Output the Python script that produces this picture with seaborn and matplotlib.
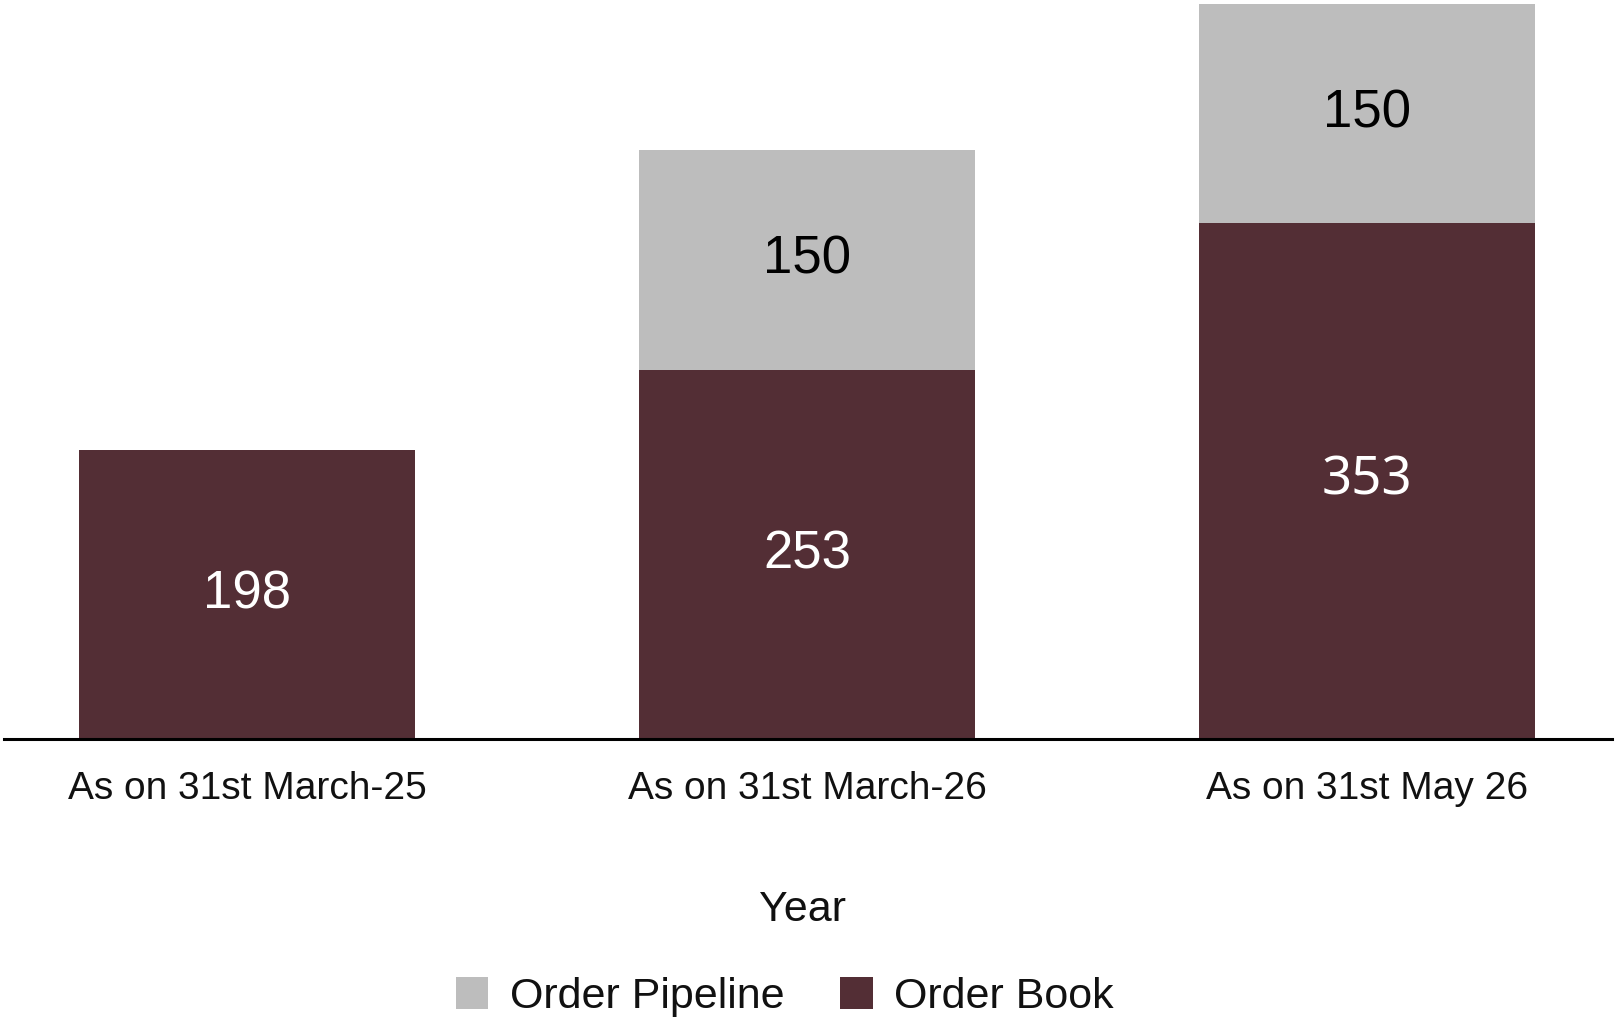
import matplotlib
matplotlib.use("Agg")
import matplotlib.pyplot as plt
import seaborn as sns
import pandas as pd
from matplotlib.patches import Patch

categories = ["As on 31st March-25", "As on 31st March-26", "As on 31st May 26"]
order_book = [198, 253, 353]
order_pipeline = [0, 150, 150]

BOOK_COLOR = "#532E35"
PIPE_COLOR = "#BDBDBD"

sns.set_theme(style="white")
plt.rcParams["font.family"] = ["Liberation Sans", "DejaVu Sans"]

df = pd.DataFrame({
    "Year": categories,
    "Order Book": order_book,
    "Order Pipeline": order_pipeline,
})
df["Total"] = df["Order Book"] + df["Order Pipeline"]

fig = plt.figure(figsize=(16.16, 10.21), dpi=100)
ax = fig.add_axes([4 / 1616, 1 - 739 / 1021, 1608 / 1616, 739 / 1021])

sns.barplot(data=df, x="Year", y="Total", color=PIPE_COLOR, width=0.6,
            saturation=1, ax=ax, linewidth=0)
sns.barplot(data=df, x="Year", y="Order Book", color=BOOK_COLOR, width=0.6,
            saturation=1, ax=ax, linewidth=0)

ax.set_xlim(-0.434, 2.4375)
ax.set_ylim(0, 506)

for i, (b, p) in enumerate(zip(order_book, order_pipeline)):
    fam = ["Noto Sans", "DejaVu Sans"] if i == 2 else ["Liberation Sans", "DejaVu Sans"]
    ax.text(i, b / 2, str(b), ha="center", va="center", color="white",
            fontsize=38 if i == 2 else 38, family=fam)
    if p > 0:
        ax.text(i, b + p / 2, str(p), ha="center", va="center", color="black",
                fontsize=38)

for s in ["top", "right", "left"]:
    ax.spines[s].set_visible(False)
ax.spines["bottom"].set_color("black")
ax.spines["bottom"].set_linewidth(2.2)
ax.set_yticks([])
ax.set_ylabel("")
ax.tick_params(axis="x", length=0, pad=23, labelsize=28, labelcolor="#111111")

ax.set_xlabel("Year", fontsize=31, color="#111111")
ax.xaxis.set_label_coords(799 / 1608, -171 / 739)
ax.xaxis.label.set_va("center")

handles = [Patch(facecolor=PIPE_COLOR, edgecolor="none", label="Order Pipeline"),
           Patch(facecolor=BOOK_COLOR, edgecolor="none", label="Order Book")]
fig.legend(handles=handles, loc="center", bbox_to_anchor=(785 / 1616, 1 - 997 / 1021),
           ncol=2, frameon=False, fontsize=31, handlelength=0.75, handleheight=0.75,
           handletextpad=0.5, columnspacing=1.3, labelcolor="#111111")

fig.savefig("out.png", dpi=100)
